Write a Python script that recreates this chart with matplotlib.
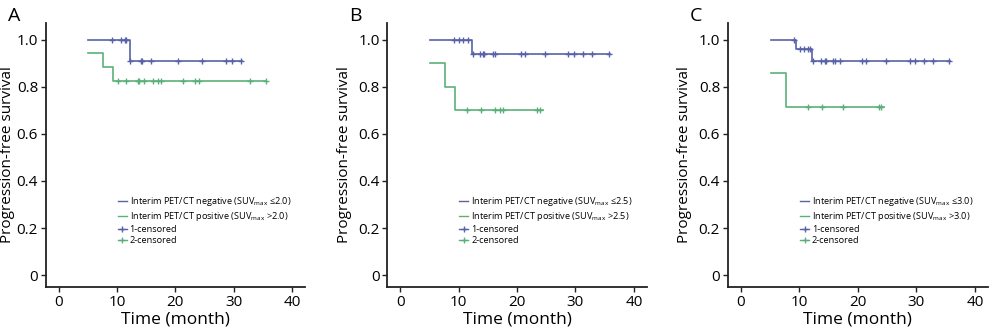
import numpy as np
import matplotlib

matplotlib.use("Agg")
import matplotlib.pyplot as plt
from matplotlib.lines import Line2D

plt.rcParams["font.family"] = ["Open Sans", "DejaVu Sans"]

BLUE = "#5862a6"
GREEN = "#5bb07a"

PANELS = ["A", "B", "C"]
CUTOFFS = ["2.0", "2.5", "3.0"]

# negative group: step times / survival, censor times
NEG_T = [
    [5.1, 12.2, 31.4],
    [5.1, 12.3, 35.9],
    [5.2, 9.45, 12.2, 35.7],
]
NEG_S = [
    [1.0, 0.909, 0.909],
    [1.0, 0.94, 0.94],
    [1.0, 0.958, 0.909, 0.909],
]
NEG_CENS = [
    [9.2, 10.7, 11.3, 11.6, 12.3, 14.15, 14.3, 15.8, 20.4, 24.6, 28.7, 29.7, 31.3],
    [9.2, 10.15, 10.8, 11.55, 12.4, 13.6, 14.25, 14.4, 15.95, 16.3, 20.6, 21.3,
     24.8, 28.8, 29.7, 31.3, 32.8, 35.8],
    [9.15, 10.1, 10.8, 11.5, 11.9, 12.3, 13.7, 14.4, 14.5, 15.75, 16.15, 17.0,
     20.65, 21.45, 24.8, 28.9, 29.8, 31.35, 32.9, 35.6],
]

# positive group
POS_T = [
    [5.1, 7.6, 9.4, 35.5],
    [5.1, 7.75, 9.45, 24.4],
    [5.2, 7.75, 24.5],
]
POS_S = [
    [0.941, 0.882, 0.824, 0.824],
    [0.9, 0.8, 0.7, 0.7],
    [0.857, 0.714, 0.714],
]
POS_CENS = [
    [10.2, 11.5, 13.6, 13.8, 14.6, 16.15, 17.0, 17.5, 21.3, 23.4, 24.0, 32.7, 35.5],
    [11.4, 13.85, 16.3, 17.15, 17.55, 23.4, 24.0],
    [11.45, 13.8, 17.5, 23.55, 24.0],
]

# axes boxes in pixels (left, right) on a 994x336 canvas
AX_X = [(45.7, 305.0), (387.3, 646.7), (727.7, 988.0)]
YLAB_X = [15, 352, 692]  # y-label centre, pixels
AX_TOP, AX_BOT = 23.0, 287.0
W, H = 994, 336


def surv_at(t, times, surv):
    idx = np.searchsorted(times, t, side="right") - 1
    return np.asarray(surv)[idx]


fig = plt.figure(figsize=(W / 100, H / 100), dpi=100)

for i in range(3):
    x0, x1 = AX_X[i]
    ax = fig.add_axes([x0 / W, 1 - AX_BOT / H, (x1 - x0) / W, (AX_BOT - AX_TOP) / H])

    for times, surv, cens, color in [
        (NEG_T[i], NEG_S[i], NEG_CENS[i], BLUE),
        (POS_T[i], POS_S[i], POS_CENS[i], GREEN),
    ]:
        ax.step(times, surv, where="post", color=color, lw=1.2)
        ax.plot(cens, surv_at(cens, times, surv), ls="none", marker="+",
                ms=5, mew=1.0, color=color)

    ax.set_xlim(-2.2, 42.2)
    ax.set_ylim(-0.05, 1.07)
    ax.set_xticks([0, 10, 20, 30, 40])
    ax.set_yticks([0, 0.2, 0.4, 0.6, 0.8, 1.0])
    ax.set_yticklabels(["0", "0.2", "0.4", "0.6", "0.8", "1.0"])
    ax.tick_params(labelsize=11, length=3.5, width=1, pad=2, color="#222222")
    for s in ("top", "right"):
        ax.spines[s].set_visible(False)
    for s in ("left", "bottom"):
        ax.spines[s].set_linewidth(1.3)
        ax.spines[s].set_color("#222222")
    ax.set_xlabel("Time (month)", fontsize=12.5, labelpad=1)
    ax.set_ylabel("Progression-free survival", fontsize=11)
    ax.yaxis.set_label_coords((YLAB_X[i] - x0) / (x1 - x0), 0.5)

    c = CUTOFFS[i]
    handles = [
        Line2D([], [], color=BLUE, lw=1.0),
        Line2D([], [], color=GREEN, lw=1.0),
        Line2D([], [], color=BLUE, lw=1.0, marker="+", ms=5),
        Line2D([], [], color=GREEN, lw=1.0, marker="+", ms=5),
    ]
    labels = [
        f"Interim PET/CT negative (SUV$_{{\\mathregular{{max}}}}$ ≤{c})",
        f"Interim PET/CT positive (SUV$_{{\\mathregular{{max}}}}$ >{c})",
        "1-censored",
        "2-censored",
    ]
    ax.legend(handles, labels, loc="upper left", bbox_to_anchor=(0.26, 0.365),
              frameon=False, fontsize=6.6, handlelength=1.0, handletextpad=0.3,
              labelspacing=0.2, borderpad=0)

    fig.text((x0 - 38) / W, 1 - 16 / H, PANELS[i], fontsize=14, va="center",
             ha="left")

fig.savefig("out.png", dpi=100)
